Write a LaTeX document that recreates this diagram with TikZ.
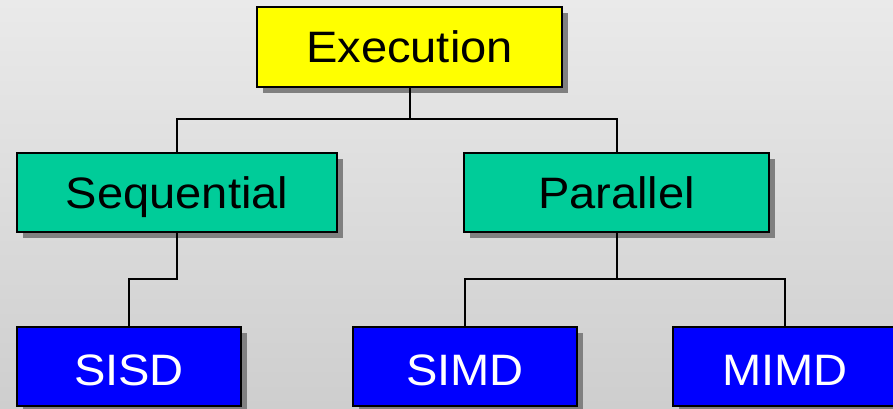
\documentclass[tikz,border=0pt]{standalone}
\usepackage{fontspec}
\setmainfont{Liberation Sans}[FakeStretch=1.07]
\usetikzlibrary{shadows}
\definecolor{bgtop}{RGB}{234,234,234}
\definecolor{bgbot}{RGB}{206,206,206}
\definecolor{shd}{RGB}{128,128,128}
\definecolor{yel}{RGB}{255,255,0}
\definecolor{grn}{RGB}{0,204,153}
\definecolor{blu}{RGB}{0,0,255}
\tikzset{
  box/.style={draw=black, line width=2.6pt, rectangle, inner sep=0pt,
    font=\fontsize{44}{50}\selectfont, text depth=0pt, text height=32pt,
    drop shadow={shadow xshift=6pt, shadow yshift=-6pt, fill=shd, opacity=1}},
  topbox/.style={box, fill=yel, text=black},
  midbox/.style={box, fill=grn, text=black},
  lowbox/.style={box, fill=blu, text=white, text height=37pt},
  conn/.style={draw=black, line width=2pt}
}
\begin{document}
\begin{tikzpicture}[x=1pt,y=1pt]
\useasboundingbox (0,0) rectangle (893,408);
\clip (0,0) rectangle (893,408);
\shade[top color=bgtop, bottom color=bgbot] (0,0) rectangle (893,408);
% nodes
\node[topbox, minimum width=305pt, minimum height=80pt] (exec) at (409.5,361) {Execution};
\node[midbox, minimum width=320pt, minimum height=79pt] (seq) at (177,215.5) {Sequential};
\node[midbox, minimum width=305pt, minimum height=79pt] (par) at (616.5,215.5) {Parallel};
\node[lowbox, minimum width=224pt, minimum height=79pt] (sisd) at (129,41.5) {SISD};
\node[lowbox, minimum width=224pt, minimum height=79pt] (simd) at (465,41.5) {SIMD};
\node[lowbox, minimum width=224pt, minimum height=79pt] (mimd) at (785,41.5) {MIMD};
% junctions
\coordinate (j1) at (409.5,289);
\coordinate (j2) at (177,129);
\coordinate (j3) at (616.5,129);
% connectors
\draw[conn] (exec.south) -- (j1);
\draw[conn] (seq.north) |- (j1) -| (par.north);
\draw[conn] (seq.south) -- (j2) -| (sisd.north);
\draw[conn] (par.south) -- (j3);
\draw[conn] (simd.north) |- (j3) -| (mimd.north);
\end{tikzpicture}
\end{document}
